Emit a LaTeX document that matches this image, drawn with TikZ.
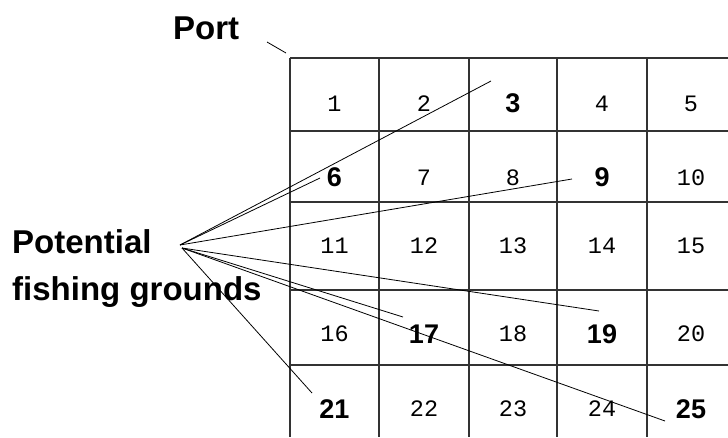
\documentclass[tikz,border=0pt]{standalone}
\usepackage{fontspec}
\setmainfont{Liberation Sans}
\newfontfamily\monofnt{Liberation Mono}
\begin{document}
\begin{tikzpicture}[x=1pt,y=-1pt,
 gridline/.style={line width=1.1pt, draw=black!80},
 conn/.style={line width=0.8pt},
 num/.style={font=\monofnt\fontsize{23.5}{25}\selectfont, inner sep=0pt},
 bnum/.style={font=\bfseries\fontsize{27}{28}\selectfont, inner sep=0pt},
 lab/.style={font=\bfseries\fontsize{33}{40}\selectfont, inner sep=0pt, anchor=base west}]
\useasboundingbox (0,0) rectangle (728,437);
% grid
\foreach \x in {290,379,469,557,647} \draw[gridline] (\x,58) -- (\x,437);
\foreach \y in {58,131,202,290,365} \draw[gridline] (290,\y) -- (728,\y);
% labels
\node[lab] (port) at (173,39) {Port};
\node[lab] (pot) at (12,253) {Potential};
\node[lab] (fish) at (12,300) {fishing grounds};
% cells
\node[num]  (c1)  at (334.5,103.5) {1};
\node[num]  (c2)  at (424,103.5) {2};
\node[bnum] (c3)  at (513,103.5) {3};
\node[num]  (c4)  at (602,103.5) {4};
\node[num]  (c5)  at (691,103.5) {5};
\node[bnum] (c6)  at (334.5,177.5) {6};
\node[num]  (c7)  at (424,177.5) {7};
\node[num]  (c8)  at (513,177.5) {8};
\node[bnum] (c9)  at (602,177.5) {9};
\node[num]  (c10) at (691,177.5) {10};
\node[num]  (c11) at (334.5,246) {11};
\node[num]  (c12) at (424,246) {12};
\node[num]  (c13) at (513,246) {13};
\node[num]  (c14) at (602,246) {14};
\node[num]  (c15) at (691,246) {15};
\node[num]  (c16) at (334.5,334) {16};
\node[bnum] (c17) at (424,334) {17};
\node[num]  (c18) at (513,334) {18};
\node[bnum] (c19) at (602,334) {19};
\node[num]  (c20) at (691,334) {20};
\node[bnum] (c21) at (334.5,409) {21};
\node[num]  (c22) at (424,409) {22};
\node[num]  (c23) at (513,409) {23};
\node[num]  (c24) at (602,409) {24};
\node[bnum] (c25) at (691,409) {25};
% connector coordinates
\coordinate (hub) at (180,245);
\coordinate (hubl) at (182,248);
\coordinate (e3) at (491,81);
\coordinate (e6) at (320,178);
\coordinate (e9) at (572,179);
\coordinate (e17) at (403,317);
\coordinate (e19) at (599,311);
\coordinate (e21) at (312,393);
\coordinate (e25) at (665,421);
\coordinate (ps) at (267,42);
\coordinate (pe) at (286,53);
% connectors
\draw[conn] (ps) -- (pe);
\draw[conn] (hub) -- (e3);
\draw[conn] (hub) -- (e6);
\draw[conn] (hub) -- (e9);
\draw[conn] (hubl) -- (e19);
\draw[conn] (hubl) -- (e17);
\draw[conn] (hubl) -- (e25);
\draw[conn] (hubl) -- (e21);
\end{tikzpicture}
\end{document}
